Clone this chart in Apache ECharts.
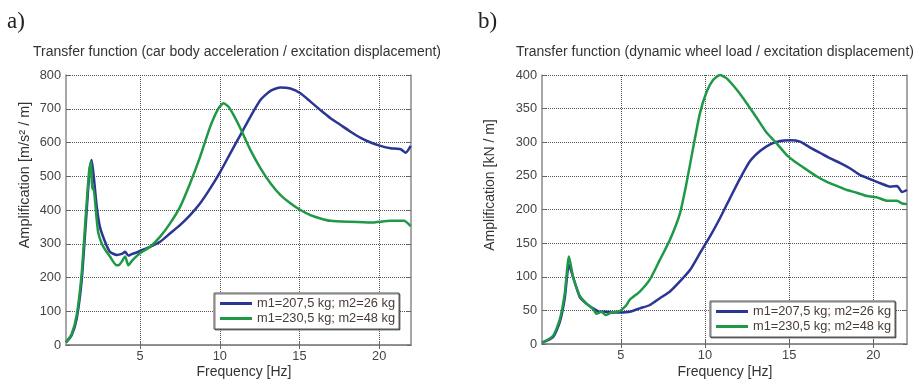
<!DOCTYPE html>
<html><head><meta charset="utf-8">
<script src="https://cdn.jsdelivr.net/npm/echarts@6/dist/echarts.min.js"></script>
<style>html,body{margin:0;padding:0;background:#fff}#c{width:920px;height:383px}</style>
</head><body><div id="c"></div>
<script>
// ---- names / ticks ----
const NAME_A = 'm1=207,5 kg; m2=26 kg';
const NAME_B = 'm1=230,5 kg; m2=48 kg';
const xTickValues = [5, 10, 15, 20];

// ---- a) car body acceleration / excitation displacement ----
const aFreqBlue = [0.35,0.7,1.02,1.33,1.6,1.81,1.96,2.1,2.28,2.48,2.8,3.11,3.53,3.85,4.06,4.26,4.5,4.79,5.0,5.63,6.26,6.89,7.52,8.14,8.77,9.40,10.03,10.66,11.29,11.92,12.55,13.18,13.81,14.43,15.06,15.69,16.32,16.95,17.58,18.21,18.84,19.47,20.09,20.72,21.35,21.67,21.98];
const aValBlue  = [8,28,78,190,365,505,548,495,410,350,306,276,267,270,276,265,270,274,279,291,306,331,356,385,420,464,513,568,622,676,726,753,763,760,746,721,696,672,652,632,614,600,590,583,580,570,590];
const aFreqGreen = [0.35,0.7,1.02,1.33,1.6,1.81,1.92,1.99,2.06,2.28,2.38,2.6,2.8,3.11,3.53,3.7,3.85,4.06,4.26,4.5,4.75,5.0,5.63,6.26,6.89,7.52,8.14,8.77,9.40,9.92,10.24,10.55,10.87,11.29,11.92,12.55,13.18,13.81,14.43,15.06,15.69,16.32,16.95,18.21,19.47,20.72,21.56,21.98];
const aValGreen  = [8,32,88,210,390,520,543,462,470,370,331,300,283,262,236,238,247,262,236,250,262,272,291,321,361,410,479,558,647,701,716,706,681,642,578,524,479,444,420,400,385,375,368,365,363,368,368,352];

// ---- b) dynamic wheel load / excitation displacement ----
const bFreqBlue = [0.32,0.97,1.37,1.67,1.92,2.16,2.56,2.96,3.35,3.75,4.1,4.45,4.94,5.54,6.13,6.73,7.32,7.92,8.51,9.11,9.70,10.30,10.89,11.49,12.08,12.68,13.27,13.87,14.46,15.06,15.65,16.25,16.85,17.44,18.04,18.63,19.23,19.82,20.42,21.01,21.41,21.71,22.0];
const bValBlue  = [2,10,32,68,118,100,70,60,53,48,48,47,47,48,53,58,68,78,93,110,135,160,187,217,246,272,287,297,302,303,301,292,284,276,269,261,251,245,239,234,235,226,229];
const bFreqGreen = [0.32,0.97,1.37,1.67,1.92,2.16,2.26,2.56,2.96,3.35,3.55,3.85,4.1,4.45,4.94,5.34,5.54,6.13,6.73,7.32,7.92,8.51,8.91,9.30,9.70,10.10,10.49,10.89,11.29,11.89,12.48,13.08,13.67,14.27,14.86,15.46,16.05,16.65,17.24,17.84,18.43,19.02,19.63,20.22,20.82,21.41,21.71,22.0];
const bValGreen  = [2,12,36,75,130,100,92,72,60,52,45,48,43,47,49,58,66,78,96,125,155,194,240,292,343,375,393,400,395,378,358,336,314,298,281,269,259,249,241,235,229,225,220,218,213,213,209,208];

const BLUE = '#2b3593', GREEN = '#1f9946';
const FONT = 'Liberation Sans, Arial, sans-serif';
const zip = (xs, ys) => xs.map((x, i) => [x, ys[i]]);

function xAxes(gi, min) {
  return [
    { type:'value', gridIndex:gi, min:min, max:22, position:'bottom',
      axisLine:{ show:true, lineStyle:{ color:'#8a8a8a', width:1.5 } },
      axisTick:{ show:true, inside:true, length:4, customValues:xTickValues, lineStyle:{ color:'#666' } },
      axisLabel:{ customValues:xTickValues, color:'#444', fontSize:12.8, fontFamily:FONT, margin:5 },
      splitLine:{ show:true, lineStyle:{ color:'#555', type:'dotted', width:1 } } },
    { type:'value', gridIndex:gi, min:min, max:22, position:'top',
      axisLine:{ show:true, lineStyle:{ color:'#8a8a8a', width:1.5 } },
      axisTick:{ show:true, inside:true, length:4, customValues:xTickValues, lineStyle:{ color:'#666' } },
      axisLabel:{ show:false }, splitLine:{ show:false } }
  ];
}
function yAxes(gi, max, interval) {
  return [
    { type:'value', gridIndex:gi, min:0, max:max, interval:interval, position:'left',
      axisLine:{ show:true, lineStyle:{ color:'#8a8a8a', width:1.5 } },
      axisTick:{ show:true, inside:true, length:4, lineStyle:{ color:'#666' } },
      axisLabel:{ color:'#444', fontSize:12.8, fontFamily:FONT, margin:5 },
      splitLine:{ show:true, lineStyle:{ color:'#555', type:'dotted', width:1 } } },
    { type:'value', gridIndex:gi, min:0, max:max, interval:interval, position:'right',
      axisLine:{ show:true, lineStyle:{ color:'#8a8a8a', width:1.5 } },
      axisTick:{ show:true, inside:true, length:4, lineStyle:{ color:'#666' } },
      axisLabel:{ show:false }, splitLine:{ show:false } }
  ];
}
function legendAt(left, top) {
  return { data:[NAME_A, NAME_B], orient:'vertical', left:left, top:top,
    icon:'rect', itemWidth:32, itemHeight:3, itemGap:2,
    padding:[4, 4, 4, 6], backgroundColor:'#fff', borderColor:'#555', borderWidth:1,
    shadowColor:'rgba(0,0,0,0.5)', shadowOffsetX:1, shadowOffsetY:1, shadowBlur:0,
    selectedMode:false,
    textStyle:{ color:'#4a3b35', fontSize:12.8, fontFamily:FONT } };
}
function line(name, color, xi, yi, data, z) {
  return { type:'line', name:name, xAxisIndex:xi, yAxisIndex:yi, data:data,
    showSymbol:false, smooth:0.2, z:z, animation:false,
    lineStyle:{ color:color, width:2.5 }, itemStyle:{ color:color } };
}
function txt(x, y, text, size, opts) {
  return Object.assign({ type:'text', x:x, y:y, z:100,
    style:{ text:text, fill:'#333', font: size + 'px ' + FONT, textAlign:'center', textVerticalAlign:'middle' } }, opts || {});
}

const chart = echarts.init(document.getElementById('c'), null, { renderer:'canvas' });
chart.setOption({
  backgroundColor:'#fff',
  animation:false,
  grid:[
    { left:66, top:75, width:345, height:270 },
    { left:542, top:75, width:365, height:269 }
  ],
  xAxis:[].concat(xAxes(0, 0.35), xAxes(1, 0.32)),
  yAxis:[].concat(yAxes(0, 800, 100), yAxes(1, 400, 50)),
  legend:[ legendAt(214, 293), legendAt(710, 301) ],
  series:[
    line(NAME_A, BLUE, 0, 0, zip(aFreqBlue, aValBlue), 2),
    line(NAME_B, GREEN, 0, 0, zip(aFreqGreen, aValGreen), 3),
    line(NAME_A, BLUE, 2, 2, zip(bFreqBlue, bValBlue), 2),
    line(NAME_B, GREEN, 2, 2, zip(bFreqGreen, bValGreen), 3)
  ],
  graphic:[
    { type:'text', x:7, y:22, style:{ text:'a)', fill:'#222', font:'23px Liberation Serif, serif', textVerticalAlign:'middle' } },
    { type:'text', x:478, y:22, style:{ text:'b)', fill:'#222', font:'23px Liberation Serif, serif', textVerticalAlign:'middle' } },
    txt(237, 52, 'Transfer function (car body acceleration / excitation displacement)', 14),
    txt(715, 52, 'Transfer function (dynamic wheel load / excitation displacement)', 14),
    txt(244, 372, 'Frequency [Hz]', 14),
    txt(725, 372, 'Frequency [Hz]', 14),
    txt(25, 175, 'Amplification [m/s² / m]', 14.5, { rotation: Math.PI / 2 }),
    txt(490, 185, 'Amplification [kN / m]', 14, { rotation: Math.PI / 2 })
  ]
});
</script>
</body></html>
